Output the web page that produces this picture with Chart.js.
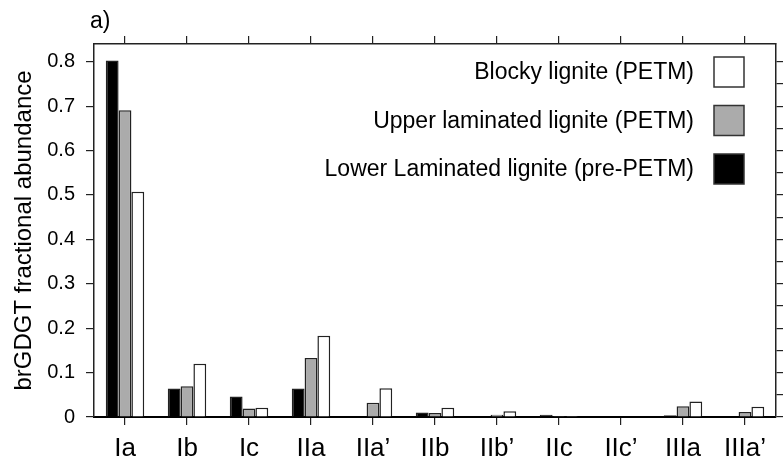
<!DOCTYPE html>
<html>
<head>
<meta charset="utf-8">
<script src="https://cdn.jsdelivr.net/npm/chart.js@4/dist/chart.umd.min.js"></script>
<style>
  html, body { margin: 0; padding: 0; background: #fff; }
  #wrap { width: 783px; height: 465px; }
</style>
</head>
<body>
<div id="wrap"><canvas id="gdgtChart" width="783" height="465"></canvas></div>
<script>
// brGDGT fractional abundances per compound
const compounds = ['Ia', 'Ib', 'Ic', 'IIa', "IIa\u2019", 'IIb', "IIb\u2019", 'IIc', "IIc\u2019", 'IIIa', "IIIa\u2019"];
const lowerLaminated = [0.803, 0.064, 0.046, 0.064, 0.000, 0.010, 0.001, 0.005, 0.000, 0.004, 0.000];
const upperLaminated = [0.691, 0.069, 0.019, 0.133, 0.032, 0.009, 0.005, 0.002, 0.000, 0.024, 0.011];
const blockyLignite  = [0.507, 0.120, 0.021, 0.183, 0.065, 0.021, 0.013, 0.002, 0.000, 0.035, 0.023];
const yMax = 0.84;

const FONT = "'Liberation Sans', Arial, sans-serif";
const EDGE = '#222';

Chart.defaults.font.family = FONT;
Chart.defaults.color = '#000';

// legend drawn inside plot, text right-aligned to the boxes, top = last dataset
const boxLegend = {
    id: 'boxLegend',
    afterDraw(chart) {
        const ctx = chart.ctx;
        const area = chart.chartArea;
        const sets = chart.data.datasets.slice().reverse();
        const boxW = 30, boxH = 30;
        const boxLeft = area.right - 32 - boxW;
        ctx.save();
        ctx.font = '23px ' + FONT;
        ctx.textAlign = 'right';
        ctx.textBaseline = 'middle';
        sets.forEach((ds, i) => {
            const cy = area.top + 28 + i * 48.5;
            ctx.fillStyle = ds.backgroundColor;
            ctx.fillRect(boxLeft, cy - boxH / 2, boxW, boxH);
            ctx.lineWidth = 1.5;
            ctx.strokeStyle = '#333';
            ctx.strokeRect(boxLeft, cy - boxH / 2, boxW, boxH);
            ctx.fillStyle = '#000';
            ctx.fillText(ds.label, boxLeft - 20, cy + 1);
        });
        // panel letter
        ctx.textAlign = 'left';
        ctx.textBaseline = 'alphabetic';
        ctx.font = '23px ' + FONT;
        ctx.fillText('a)', 90, 28);
        ctx.restore();
    }
};

const tickLabel = (v) => Math.abs(v * 10 - Math.round(v * 10)) < 1e-6 ? String(+v.toFixed(1)) : '';

new Chart(document.getElementById('gdgtChart'), {
    type: 'bar',
    data: {
        labels: compounds,
        datasets: [
            { label: 'Lower Laminated lignite (pre-PETM)', data: lowerLaminated, backgroundColor: '#000000' },
            { label: 'Upper laminated lignite (PETM)', data: upperLaminated, backgroundColor: '#ababab' },
            { label: 'Blocky lignite (PETM)', data: blockyLignite, backgroundColor: '#ffffff' }
        ]
    },
    options: {
        responsive: false,
        animation: false,
        layout: { padding: 0 },
        datasets: {
            bar: {
                borderColor: EDGE,
                borderWidth: 1.5,
                borderSkipped: 'bottom',
                categoryPercentage: 0.62,
                barPercentage: 1.0
            }
        },
        plugins: {
            legend: { display: false },
            tooltip: { enabled: false }
        },
        scales: {
            x: {
                position: 'bottom',
                offset: true,
                grid: { offset: false, drawOnChartArea: false, tickLength: 8, color: EDGE, lineWidth: 1.2 },
                border: { color: '#000', width: 2 },
                ticks: { font: { size: 26 }, padding: 8, autoSkip: false, maxRotation: 0 },
                afterFit: (s) => { s.height = 48; }
            },
            xTop: {
                type: 'category',
                position: 'top',
                offset: true,
                grid: { offset: false, drawOnChartArea: false, tickLength: 8, color: EDGE, lineWidth: 1.2 },
                border: { color: EDGE, width: 1.5 },
                ticks: { display: false },
                afterFit: (s) => { s.height = 44; }
            },
            y: {
                position: 'left',
                min: 0,
                max: yMax,
                grid: { drawOnChartArea: false, tickLength: 8, color: EDGE, lineWidth: 1.2 },
                border: { color: EDGE, width: 1.5 },
                ticks: { stepSize: 0.05, includeBounds: false, padding: 11, font: { size: 20 }, callback: tickLabel },
                title: { display: true, text: 'brGDGT fractional abundance', font: { size: 24 }, padding: { top: 10, bottom: 0 } },
                afterFit: (s) => { s.width = 94; }
            },
            yRight: {
                type: 'linear',
                position: 'right',
                min: 0,
                max: yMax,
                grid: { drawOnChartArea: false, tickLength: 7, color: EDGE, lineWidth: 1.2 },
                border: { color: EDGE, width: 1.5 },
                ticks: { display: false, stepSize: 0.05, includeBounds: false },
                afterFit: (s) => { s.width = 7; }
            }
        }
    },
    plugins: [boxLegend]
});
</script>
</body>
</html>
